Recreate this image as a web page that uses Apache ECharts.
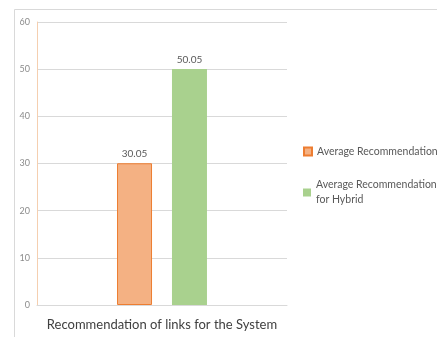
<!DOCTYPE html>
<html>
<head>
<meta charset="utf-8">
<script src="https://cdn.jsdelivr.net/npm/echarts@6/dist/echarts.min.js"></script>
<style>
  html, body { margin: 0; padding: 0; background: #fff; }
  #chart { width: 437px; height: 337px; }
</style>
</head>
<body>
<div id="chart"></div>
<script>
// Chart data
const categories = ['Recommendation of links for the System'];
const seriesNames = ['Average Recommendation', 'Average Recommendation for Hybrid'];
const avgRecommendation = [30.05];
const avgHybrid = [50.05];
const yTicks = { min: 0, max: 60, interval: 10 };

const FONT = 'Lato, "Open Sans", sans-serif';
const chart = echarts.init(document.getElementById('chart'));

chart.setOption({
  animation: false,
  backgroundColor: '#ffffff',
  textStyle: { fontFamily: FONT },
  graphic: [{
    type: 'rect',
    silent: true,
    shape: { x: 14.5, y: 9.5, width: 600, height: 600 },
    style: { fill: 'none', stroke: '#d9d9d9', lineWidth: 1 }
  }],
  grid: { left: 37, right: 150, top: 22, bottom: 32 },
  legend: [{
    data: [seriesNames[0]],
    left: 298, top: 141,
    itemWidth: 8, itemHeight: 8, itemGap: 0,
    icon: 'rect',
    textStyle: { fontFamily: FONT, fontSize: 10.5, color: '#595959' }
  }, {
    data: [seriesNames[1]],
    left: 298, top: 165,
    itemWidth: 8, itemHeight: 8,
    icon: 'rect',
    formatter: name => name.replace(' for Hybrid', '\nfor Hybrid'),
    textStyle: { fontFamily: FONT, fontSize: 10.5, color: '#595959', lineHeight: 15, padding: [15, 0, 0, 0] }
  }],
  xAxis: {
    type: 'category',
    data: categories,
    axisLine: { lineStyle: { color: '#d9d9d9' } },
    axisTick: { show: false },
    axisLabel: { fontFamily: FONT, fontSize: 13, color: '#404040', margin: 13 }
  },
  yAxis: {
    type: 'value',
    min: yTicks.min, max: yTicks.max, interval: yTicks.interval,
    axisLine: { show: true, lineStyle: { color: '#f5cfb0' } },
    axisTick: { show: false },
    axisLabel: { fontFamily: FONT, fontSize: 9, color: '#8c8c8c', margin: 7 },
    splitLine: { lineStyle: { color: '#d9d9d9' } }
  },
  series: [{
    name: seriesNames[0],
    type: 'bar',
    data: avgRecommendation,
    barWidth: 35,
    barGap: '57%',
    itemStyle: { color: '#F4B183', borderColor: '#ED7D31', borderWidth: 1 },
    label: { show: true, position: 'top', distance: 4, fontFamily: FONT, fontSize: 10, color: '#595959', formatter: p => p.value.toFixed(2) }
  }, {
    name: seriesNames[1],
    type: 'bar',
    data: avgHybrid,
    barWidth: 35,
    itemStyle: { color: '#A9D18E' },
    label: { show: true, position: 'top', distance: 4, fontFamily: FONT, fontSize: 10, color: '#595959', formatter: p => p.value.toFixed(2) }
  }]
});
</script>
</body>
</html>
